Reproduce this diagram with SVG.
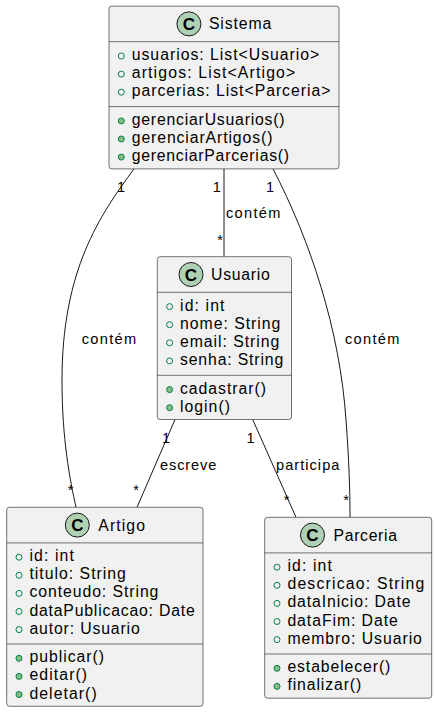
<svg xmlns="http://www.w3.org/2000/svg" width="434" height="713" viewBox="0 0 434 713">
<defs>
<style>
.box{fill:#F1F1F1;stroke:#181818;stroke-width:0.6}
.sep{stroke:#181818;stroke-width:0.6}
.circ{fill:#ADD1B2;stroke:#181818;stroke-width:1}
.cl{font-family:"Liberation Sans",Arial,sans-serif;font-size:17px;font-weight:bold;fill:#000;text-anchor:middle}
.t{font-family:"Liberation Sans",Arial,sans-serif;font-size:15.8px;fill:#000}
.a{fill:none;stroke:#038048;stroke-width:1}
.m{fill:#84BE84;stroke:#038048;stroke-width:1}
.e{fill:none;stroke:#181818;stroke-width:1}
.l{font-family:"Liberation Sans",Arial,sans-serif;font-size:14.6px;fill:#000}
.c{text-anchor:middle}
</style>
</defs>
<rect width="434" height="713" fill="#FFFFFF"/>
<g id="connectors">
<path class="e" d="M224,168.9 L224,256.7"/>
<path class="e" d="M134,168.9 C100,215 62,270 62,380 C62,440 70,480 76,507.3"/>
<path class="e" d="M273,168.9 C310,240 340,330 346,420 C349,460 350,490 350,517.3"/>
<path class="e" d="M175,419.5 L137,507.3"/>
<path class="e" d="M252.7,419.5 L296,517.3"/>
<text class="l c" x="216.7" y="192">1</text>
<text class="l" x="226" y="218" textLength="54.4" lengthAdjust="spacing">contém</text>
<text class="l c" x="220" y="245">*</text>
<text class="l c" x="121" y="192">1</text>
<text class="l" x="81.7" y="344" textLength="54.4" lengthAdjust="spacing">contém</text>
<text class="l c" x="70.7" y="495">*</text>
<text class="l c" x="270" y="192">1</text>
<text class="l" x="345" y="344" textLength="54.4" lengthAdjust="spacing">contém</text>
<text class="l c" x="346" y="505">*</text>
<text class="l c" x="166" y="443">1</text>
<text class="l" x="160" y="470" textLength="56.4" lengthAdjust="spacing">escreve</text>
<text class="l c" x="136" y="495">*</text>
<text class="l c" x="250.5" y="443">1</text>
<text class="l" x="276" y="470" textLength="63.4" lengthAdjust="spacing">participa</text>
<text class="l c" x="286.7" y="505">*</text>
</g>
<g id="Sistema">
<rect class="box" x="109" y="6.1" width="230" height="162.8" rx="2.8"/>
<circle class="circ" cx="188.9" cy="23.9" r="12"/>
<text class="cl" x="188.9" y="29.9">C</text>
<text class="t" x="208.9" y="29.4" textLength="62.4" lengthAdjust="spacing">Sistema</text>
<line class="sep" x1="109" y1="41.7" x2="339" y2="41.7"/>
<circle class="a" cx="121.3" cy="56" r="3"/>
<text class="t" x="131.7" y="60" textLength="187.6" lengthAdjust="spacing">usuarios: List&lt;Usuario&gt;</text>
<circle class="a" cx="121.3" cy="74.1" r="3"/>
<text class="t" x="131.7" y="78.1" textLength="163.6" lengthAdjust="spacing">artigos: List&lt;Artigo&gt;</text>
<circle class="a" cx="121.3" cy="92.2" r="3"/>
<text class="t" x="131.7" y="96.2" textLength="198.7" lengthAdjust="spacing">parcerias: List&lt;Parceria&gt;</text>
<line class="sep" x1="109" y1="106.6" x2="339" y2="106.6"/>
<circle class="m" cx="121.3" cy="120.9" r="3"/>
<text class="t" x="131.7" y="124.9" textLength="152.9" lengthAdjust="spacing">gerenciarUsuarios()</text>
<circle class="m" cx="121.3" cy="139" r="3"/>
<text class="t" x="131.7" y="143" textLength="140.7" lengthAdjust="spacing">gerenciarArtigos()</text>
<circle class="m" cx="121.3" cy="157.1" r="3"/>
<text class="t" x="131.7" y="161.1" textLength="157.4" lengthAdjust="spacing">gerenciarParcerias()</text>
</g>
<g id="Usuario">
<rect class="box" x="157.3" y="256.7" width="134.2" height="162.8" rx="2.8"/>
<circle class="circ" cx="191" cy="274.5" r="12"/>
<text class="cl" x="191" y="280.5">C</text>
<text class="t" x="211" y="280" textLength="58.9" lengthAdjust="spacing">Usuario</text>
<line class="sep" x1="157.3" y1="292.3" x2="291.5" y2="292.3"/>
<circle class="a" cx="169.6" cy="306.6" r="3"/>
<text class="t" x="180" y="310.6" textLength="44.5" lengthAdjust="spacing">id: int</text>
<circle class="a" cx="169.6" cy="324.7" r="3"/>
<text class="t" x="180" y="328.7" textLength="100.4" lengthAdjust="spacing">nome: String</text>
<circle class="a" cx="169.6" cy="342.8" r="3"/>
<text class="t" x="180" y="346.8" textLength="99.2" lengthAdjust="spacing">email: String</text>
<circle class="a" cx="169.6" cy="360.9" r="3"/>
<text class="t" x="180" y="364.9" textLength="103.2" lengthAdjust="spacing">senha: String</text>
<line class="sep" x1="157.3" y1="375.3" x2="291.5" y2="375.3"/>
<circle class="m" cx="169.6" cy="389.6" r="3"/>
<text class="t" x="180" y="393.6" textLength="85.9" lengthAdjust="spacing">cadastrar()</text>
<circle class="m" cx="169.6" cy="407.7" r="3"/>
<text class="t" x="180" y="411.7" textLength="49.9" lengthAdjust="spacing">login()</text>
</g>
<g id="Artigo">
<rect class="box" x="6.7" y="507.3" width="196.3" height="199" rx="2.8"/>
<circle class="circ" cx="77.3" cy="525.1" r="12"/>
<text class="cl" x="77.3" y="531.1">C</text>
<text class="t" x="98.3" y="530.6" textLength="46.7" lengthAdjust="spacing">Artigo</text>
<line class="sep" x1="6.7" y1="542.9" x2="203" y2="542.9"/>
<circle class="a" cx="19" cy="557.2" r="3"/>
<text class="t" x="29.4" y="561.2" textLength="44.5" lengthAdjust="spacing">id: int</text>
<circle class="a" cx="19" cy="575.3" r="3"/>
<text class="t" x="29.4" y="579.3" textLength="96.5" lengthAdjust="spacing">titulo: String</text>
<circle class="a" cx="19" cy="593.4" r="3"/>
<text class="t" x="29.4" y="597.4" textLength="129" lengthAdjust="spacing">conteudo: String</text>
<circle class="a" cx="19" cy="611.5" r="3"/>
<text class="t" x="29.4" y="615.5" textLength="165.3" lengthAdjust="spacing">dataPublicacao: Date</text>
<circle class="a" cx="19" cy="629.6" r="3"/>
<text class="t" x="29.4" y="633.6" textLength="110.3" lengthAdjust="spacing">autor: Usuario</text>
<line class="sep" x1="6.7" y1="644" x2="203" y2="644"/>
<circle class="m" cx="19" cy="658.3" r="3"/>
<text class="t" x="29.4" y="662.3" textLength="74.6" lengthAdjust="spacing">publicar()</text>
<circle class="m" cx="19" cy="676.4" r="3"/>
<text class="t" x="29.4" y="680.4" textLength="57.7" lengthAdjust="spacing">editar()</text>
<circle class="m" cx="19" cy="694.5" r="3"/>
<text class="t" x="29.4" y="698.5" textLength="67.3" lengthAdjust="spacing">deletar()</text>
</g>
<g id="Parceria">
<rect class="box" x="264.7" y="517.3" width="167" height="180.9" rx="2.8"/>
<circle class="circ" cx="312.5" cy="535.1" r="12"/>
<text class="cl" x="312.5" y="541.1">C</text>
<text class="t" x="333.5" y="540.6" textLength="63.5" lengthAdjust="spacing">Parceria</text>
<line class="sep" x1="264.7" y1="552.9" x2="431.7" y2="552.9"/>
<circle class="a" cx="277" cy="567.2" r="3"/>
<text class="t" x="287.4" y="571.2" textLength="44.5" lengthAdjust="spacing">id: int</text>
<circle class="a" cx="277" cy="585.3" r="3"/>
<text class="t" x="287.4" y="589.3" textLength="136.8" lengthAdjust="spacing">descricao: String</text>
<circle class="a" cx="277" cy="603.4" r="3"/>
<text class="t" x="287.4" y="607.4" textLength="123.1" lengthAdjust="spacing">dataInicio: Date</text>
<circle class="a" cx="277" cy="621.5" r="3"/>
<text class="t" x="287.4" y="625.5" textLength="110.4" lengthAdjust="spacing">dataFim: Date</text>
<circle class="a" cx="277" cy="639.6" r="3"/>
<text class="t" x="287.4" y="643.6" textLength="134.5" lengthAdjust="spacing">membro: Usuario</text>
<line class="sep" x1="264.7" y1="654" x2="431.7" y2="654"/>
<circle class="m" cx="277" cy="668.3" r="3"/>
<text class="t" x="287.4" y="672.3" textLength="102.9" lengthAdjust="spacing">estabelecer()</text>
<circle class="m" cx="277" cy="686.4" r="3"/>
<text class="t" x="287.4" y="690.4" textLength="73.8" lengthAdjust="spacing">finalizar()</text>
</g>
</svg>
